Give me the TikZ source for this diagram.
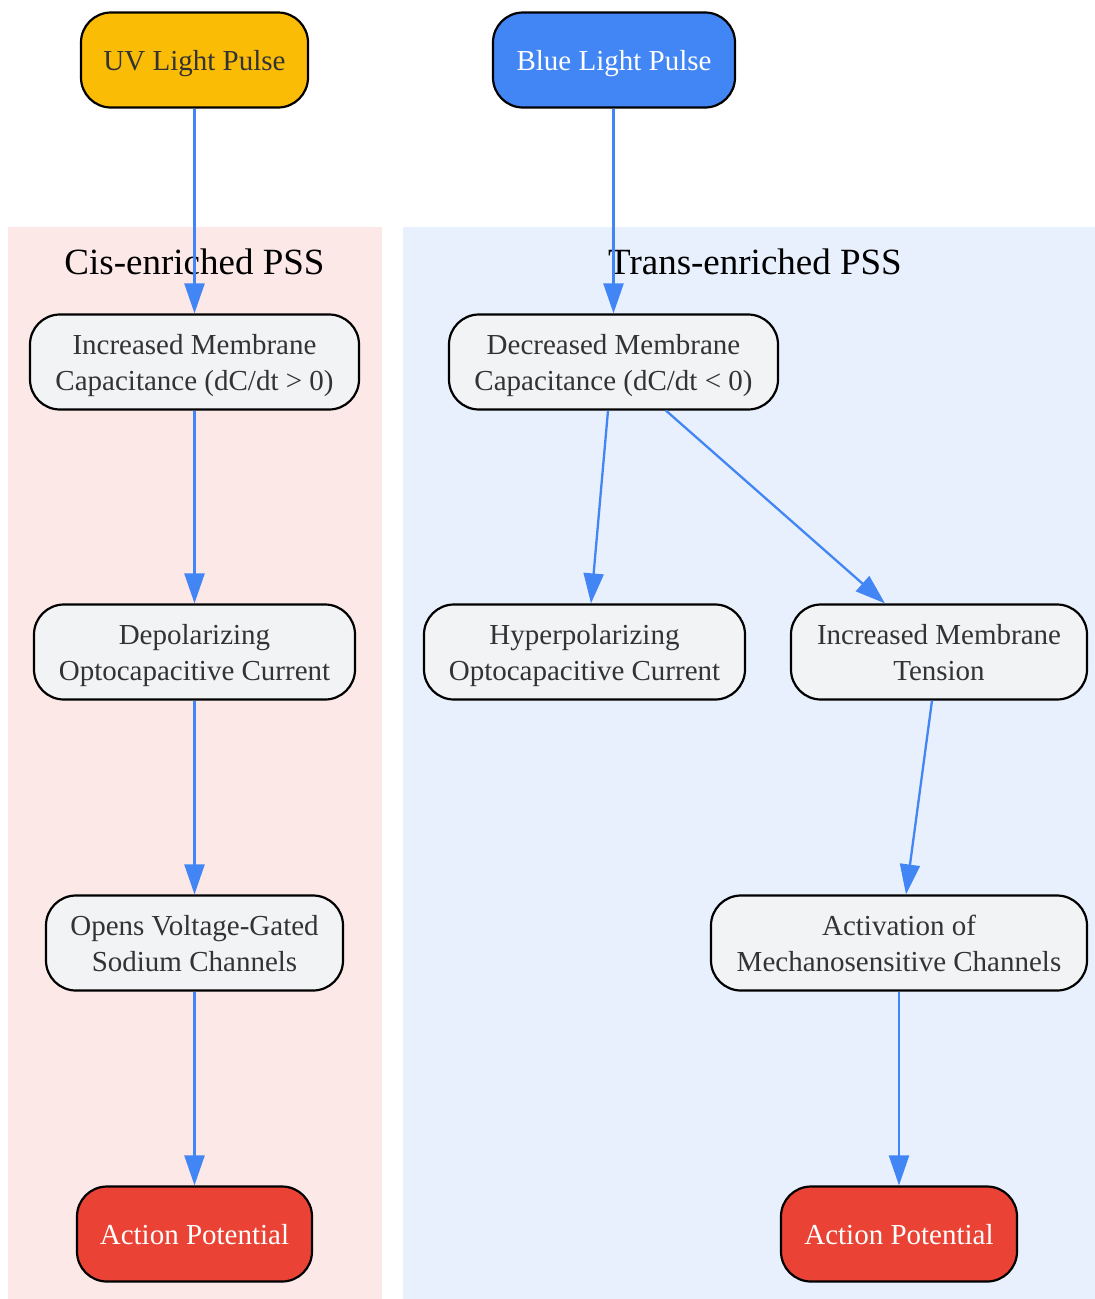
\documentclass[tikz,border=0pt]{standalone}
\usepackage{fontspec}
\setmainfont{Liberation Serif}
\usetikzlibrary{arrows.meta,calc}
\definecolor{uvyellow}{HTML}{FBBC05}
\definecolor{gblue}{HTML}{4285F4}
\definecolor{gred}{HTML}{EA4335}
\definecolor{ggray}{HTML}{F1F3F4}
\definecolor{cispink}{HTML}{FCE8E6}
\definecolor{transblue}{HTML}{E8F0FE}
\definecolor{txt}{HTML}{333333}
\tikzset{
  boxbase/.style={draw=black, line width=2.2pt, rounded corners=30pt, fill=ggray,
    text=txt, align=center, inner sep=0pt, minimum height=95pt,
    font=\fontsize{29}{36.5}\selectfont,
    execute at end node={\rule[-7pt]{0pt}{7pt}}},
  box/.style={boxbase, execute at begin node={\rule{0pt}{28pt}}},
  box2/.style={boxbase, execute at begin node={\rule{0pt}{64pt}}},
  title/.style={font=\fontsize{37}{44}\selectfont, text=black},
  flow/.style={draw=gblue, line width=2.3pt, -{Triangle[length=30pt,width=20pt]}},
}
\begin{document}
\begin{tikzpicture}[x=1pt,y=-1pt]
\useasboundingbox (0,0) rectangle (1095,1299);
% clusters
\fill[cispink] (8,227) rectangle (382,1299);
\fill[transblue] (403,227) rectangle (1095,1299);
\node[title] (cist) at (194.5,262) {Cis-enriched PSS};
\node[title] (transt) at (755,262) {Trans-enriched PSS};
% nodes
\node[box, fill=uvyellow, minimum width=227pt] (uv) at (194.5,60) {UV Light Pulse};
\node[box, fill=gblue, text=white, minimum width=242pt] (blue) at (614,60) {Blue Light Pulse};
\node[box2, minimum width=329pt] (inc) at (194.5,362) {Increased Membrane\\Capacitance (dC/dt > 0)};
\node[box2, minimum width=329pt] (dec) at (613.5,362) {Decreased Membrane\\Capacitance (dC/dt < 0)};
\node[box2, minimum width=321pt] (dep) at (194.5,652) {Depolarizing\\Optocapacitive Current};
\node[box2, minimum width=321pt] (hyp) at (584.5,652) {Hyperpolarizing\\Optocapacitive Current};
\node[box2, minimum width=296pt] (ten) at (939,652) {Increased Membrane\\Tension};
\node[box2, minimum width=297pt] (opn) at (194.5,943) {Opens Voltage-Gated\\Sodium Channels};
\node[box2, minimum width=376pt] (act) at (899,943) {Activation of\\Mechanosensitive Channels};
\node[box, fill=gred, text=white, minimum width=235pt] (ap1) at (194.5,1234) {Action Potential};
\node[box, fill=gred, text=white, minimum width=236pt] (ap2) at (899,1234) {Action Potential};
% edges
\draw[flow] ([xshift=-0.5pt]blue.south) -- (dec.north);
\draw[flow] (uv.south) -- (inc.north);
\draw[flow] (inc.south) -- (dep.north);
\draw[flow] ([xshift=-5.5pt]dec.south) -- ([xshift=6.5pt]hyp.north);
\draw[flow] ([xshift=52.5pt]dec.south) -- ([xshift=-54pt]ten.north);
\draw[flow] (dep.south) -- (opn.north);
\draw[flow] ([xshift=-7pt]ten.south) -- ([xshift=7pt]act.north);
\draw[flow] (opn.south) -- (ap1.north);
\draw[flow] (act.south) -- (ap2.north);
\end{tikzpicture}
\end{document}
